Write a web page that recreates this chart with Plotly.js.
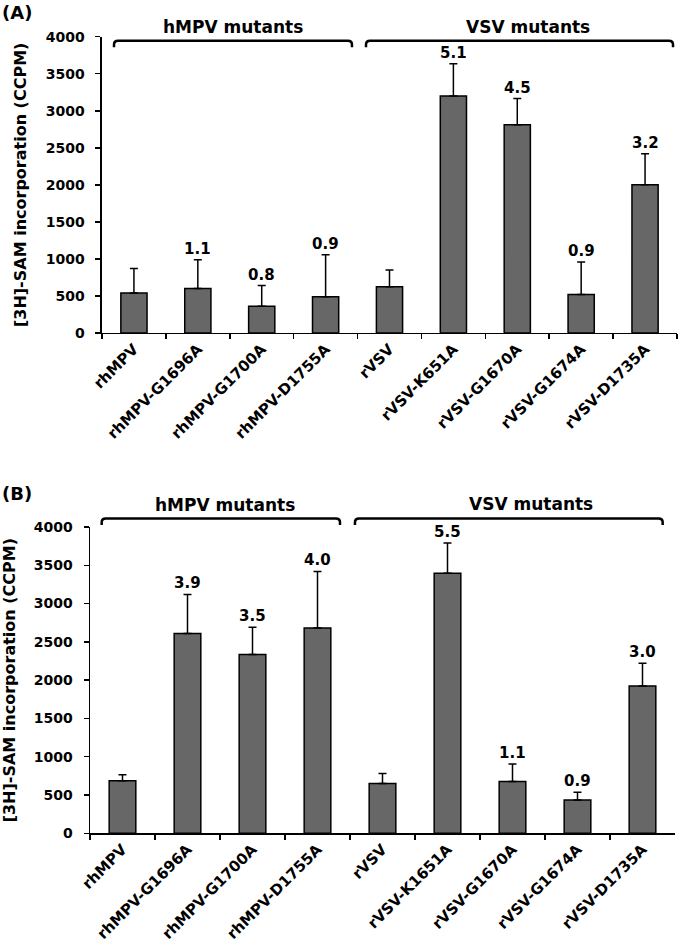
<!DOCTYPE html>
<html>
<head>
<meta charset="utf-8">
<script src="https://cdn.plot.ly/plotly-3.0.1.min.js"></script>
<style>html,body{margin:0;padding:0;background:#fff}#chart{width:680px;height:947px}</style>
</head>
<body>
<div id="chart"></div>
<script>
// ---- Data ----
const categoriesA = ['rhMPV','rhMPV-G1696A','rhMPV-G1700A','rhMPV-D1755A','rVSV','rVSV-K651A','rVSV-G1670A','rVSV-G1674A','rVSV-D1735A'];
const valuesA = [540, 600, 360, 490, 625, 3200, 2810, 520, 2000];
const errorsA = [330, 390, 280, 565, 225, 435, 355, 440, 420];
const foldA = ['', '1.1', '0.8', '0.9', '', '5.1', '4.5', '0.9', '3.2'];

const categoriesB = ['rhMPV','rhMPV-G1696A','rhMPV-G1700A','rhMPV-D1755A','rVSV','rVSV-K1651A','rVSV-G1670A','rVSV-G1674A','rVSV-D1735A'];
const valuesB = [685, 2610, 2335, 2680, 650, 3395, 675, 435, 1925];
const errorsB = [80, 510, 355, 740, 130, 395, 230, 100, 295];
const foldB = ['', '3.9', '3.5', '4.0', '', '5.5', '1.1', '0.9', '3.0'];

const groupLabels = ['hMPV mutants', 'VSV mutants'];
const panelLabels = ['(A)', '(B)'];
const yTitle = '[3H]-SAM incorporation (CCPM)';
const yTicks = [0, 500, 1000, 1500, 2000, 2500, 3000, 3500, 4000];

// ---- Styling ----
const FONT = 'DejaVu Sans, Arial, sans-serif';
const barColor = '#676767';

function barTrace(cats, vals, errs, xa, ya) {
  return {
    type: 'bar', x: cats, y: vals, xaxis: xa, yaxis: ya, width: 0.41,
    marker: {color: barColor, line: {color: '#000', width: 1.5}},
    error_y: {type: 'data', array: errs, arrayminus: errs.map(() => 0), symmetric: false,
              color: '#000', thickness: 1.5, width: 4},
    showlegend: false, hoverinfo: 'x+y'
  };
}

function xAxis(domain, anchor) {
  return {
    domain: domain, anchor: anchor, type: 'category', tickson: 'boundaries',
    ticks: 'outside', ticklen: 5, tickwidth: 1.5, tickcolor: '#000',
    showline: true, linecolor: '#000', linewidth: 1.5, showgrid: false,
    tickangle: -45, tickfont: {family: FONT, size: 15, color: '#000', weight: 'bold'},
    fixedrange: true
  };
}
function yAxis(domain, anchor) {
  return {
    domain: domain, anchor: anchor, range: [0, 4000], tickvals: yTicks,
    ticks: 'outside', ticklen: 5, tickwidth: 1.5, tickcolor: '#000', ticklabelstandoff: 8,
    showline: true, linecolor: '#000', linewidth: 1.5, showgrid: false, zeroline: false,
    tickfont: {family: FONT, size: 14, color: '#000', weight: 'bold'},
    title: {text: yTitle, font: {family: FONT, size: 16, color: '#000', weight: 'bold'}, standoff: 15},
    fixedrange: true
  };
}

const data = [
  barTrace(categoriesA, valuesA, errorsA, 'x', 'y'),
  barTrace(categoriesB, valuesB, errorsB, 'x2', 'y2')
];

const annotations = [];
function foldAnn(cats, vals, errs, folds, xr, yr) {
  cats.forEach((c, i) => {
    if (!folds[i]) return;
    annotations.push({x: c, y: vals[i] + errs[i], xref: xr, yref: yr, text: folds[i],
      showarrow: false, xanchor: 'center', yanchor: 'bottom', yshift: 0,
      font: {family: FONT, size: 15, color: '#000', weight: 'bold'}});
  });
}
foldAnn(categoriesA, valuesA, errorsA, foldA, 'x', 'y');
foldAnn(categoriesB, valuesB, errorsB, foldB, 'x2', 'y2');

const grpFont = {family: FONT, size: 17, color: '#000', weight: 'bold'};
function grp(x, y, t) {
  annotations.push({xref: 'paper', yref: 'paper', x: x, y: y, xanchor: 'center', yanchor: 'middle',
    text: t, showarrow: false, font: grpFont});
}
grp(0.2436, 0.9715, groupLabels[0]);
grp(0.7462, 0.9715, groupLabels[1]);
grp(0.2300, 0.4667, groupLabels[0]);
grp(0.7513, 0.4678, groupLabels[1]);

const panFont = {family: FONT, size: 18, color: '#000', weight: 'bold'};
annotations.push({xref: 'paper', yref: 'paper', x: -0.1533, y: 0.9873, xanchor: 'left', yanchor: 'middle', text: panelLabels[0], showarrow: false, font: panFont});
annotations.push({xref: 'paper', yref: 'paper', x: -0.1533, y: 0.4794, xanchor: 'left', yanchor: 'middle', text: panelLabels[1], showarrow: false, font: panFont});

function bracket(x0, x1, yl, ye) {
  const dx = 0.007, dy = 0.004;
  return {type: 'path', xref: 'paper', yref: 'paper',
    path: `M ${x0},${ye} L ${x0},${yl - dy} Q ${x0},${yl} ${x0 + dx},${yl} L ${x1 - dx},${yl} Q ${x1},${yl} ${x1},${yl - dy} L ${x1},${ye}`,
    line: {color: '#000', width: 2.5}};
}
const shapes = [
  bracket(0.0409, 0.4463, 0.9570, 0.9500),
  bracket(0.4702, 0.9932, 0.9570, 0.9500),
  bracket(0.0199, 0.4259, 0.4525, 0.4456),
  bracket(0.4514, 0.9756, 0.4525, 0.4456)
];

const layout = {
  width: 680, height: 947,
  margin: {l: 90, r: 3, t: 0, b: 0},
  paper_bgcolor: '#fff', plot_bgcolor: '#fff',
  font: {family: FONT, color: '#000'},
  bargap: 0.59,
  xaxis: xAxis([0.02044, 1], 'y'),
  yaxis: yAxis([0.64837, 0.96125], 'x'),
  xaxis2: xAxis([0, 0.99659], 'y2'),
  yaxis2: yAxis([0.12006, 0.44350], 'x2'),
  annotations: annotations,
  shapes: shapes,
  showlegend: false
};

Plotly.newPlot('chart', data, layout, {staticPlot: true, displayModeBar: false});
</script>
</body>
</html>
